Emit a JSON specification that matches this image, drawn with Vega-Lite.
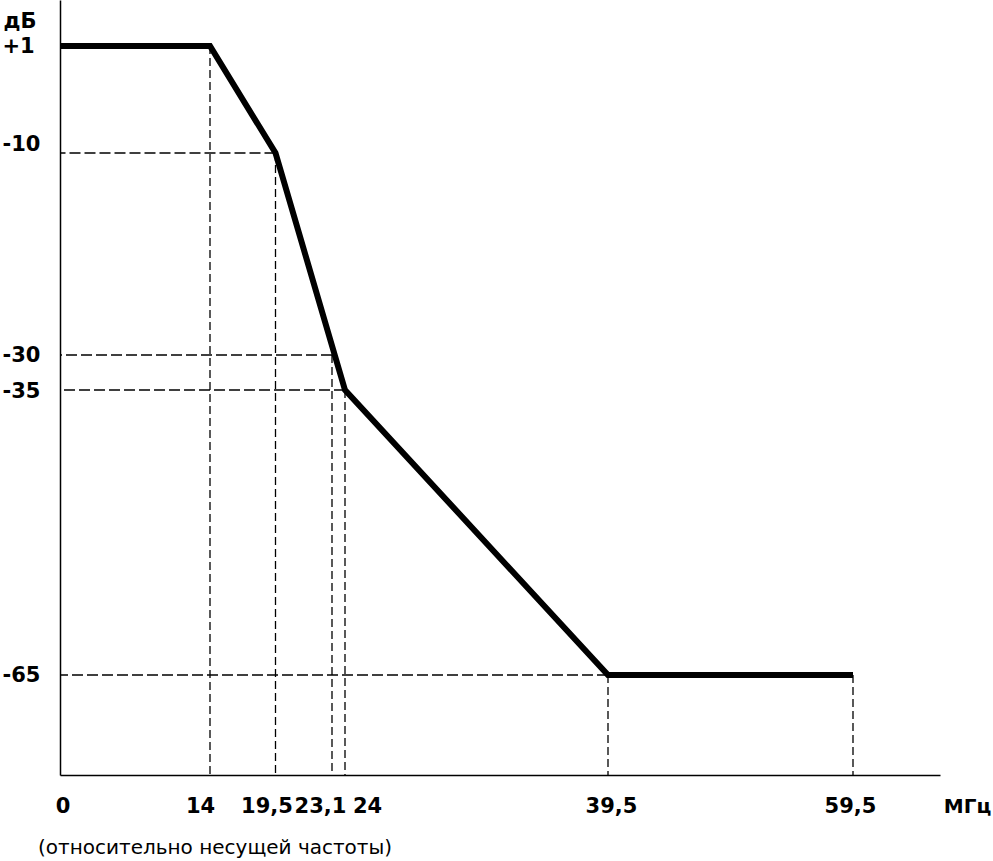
{
  "$schema": "https://vega.github.io/schema/vega-lite/v6.json",
  "width": 880,
  "height": 775,
  "autosize": "none",
  "padding": {"left": 60, "top": 0, "right": 53, "bottom": 86},
  "background": "white",
  "config": {
    "view": {"stroke": null},
    "font": "DejaVu Sans",
    "axis": {"grid": false, "domainColor": "black", "domainWidth": 1.5, "labelColor": "black", "titleColor": "black"}
  },
  "title": {
    "text": "(относительно несущей частоты)",
    "orient": "bottom",
    "anchor": "start",
    "dx": 36,
    "offset": 22,
    "font": "DejaVu Sans",
    "fontSize": 20,
    "fontWeight": "normal",
    "color": "black"
  },
  "datasets": {
    "curve": [
      {"f": 0, "db": 1},
      {"f": 14, "db": 1},
      {"f": 19.5, "db": -10},
      {"f": 24, "db": -35},
      {"f": 39.5, "db": -65},
      {"f": 59.5, "db": -65}
    ],
    "vguides": [
      {"f": 14, "db": 1},
      {"f": 19.5, "db": -10},
      {"f": 23.1, "db": -30},
      {"f": 24, "db": -35},
      {"f": 39.5, "db": -65},
      {"f": 59.5, "db": -65}
    ],
    "hguides": [
      {"f": 19.5, "db": -10},
      {"f": 23.1, "db": -30},
      {"f": 24, "db": -35},
      {"f": 39.5, "db": -65}
    ]
  },
  "layer": [
    {
      "data": {"name": "vguides"},
      "mark": {"type": "rule", "color": "black", "strokeWidth": 1.3, "strokeDash": [8, 4]},
      "encoding": {
        "x": {
          "field": "f", "type": "quantitative",
          "scale": {"domain": [0, 14, 19.5, 23.1, 24, 39.5, 59.5, 66.6], "range": [0, 150, 215.5, 272, 285, 548, 793, 880], "zero": false, "nice": false},
          "axis": {
            "values": [0, 14, 19.5, 23.1, 24, 39.5, 59.5],
            "labelExpr": "replace(toString(datum.value), '.', ',')",
            "ticks": false,
            "tickSize": 0,
            "labelPadding": 31,
            "labelBaseline": "middle",
            "labelAlign": "center",
            "labelFont": "DejaVu Sans",
            "labelFontWeight": "bold",
            "labelFontSize": 21,
            "labelFlush": false,
            "labelOverlap": false,
            "labelOffset": {"expr": "datum.value == 0 ? 2.5 : datum.value == 14 ? -10 : datum.value == 19.5 ? -9 : datum.value == 23.1 ? -12 : datum.value == 24 ? 22 : datum.value == 39.5 ? 3 : datum.value == 59.5 ? -3 : 0"},
            "title": "МГц",
            "titleFont": "DejaVu Sans",
            "titleFontWeight": "bold",
            "titleFontSize": 20,
            "titleX": 907,
            "titleY": 31,
            "titleAlign": "center",
            "titleBaseline": "middle"
          }
        },
        "y": {
          "field": "db", "type": "quantitative",
          "scale": {"domain": [-75.5, -65, -35, -30, -10, 1, 5.7], "range": [775, 675, 390, 355, 153, 46, 0], "zero": false, "nice": false},
          "axis": {
            "values": [1, -10, -30, -35, -65],
            "labelExpr": "datum.value > 0 ? '+' + datum.value : '' + datum.value",
            "ticks": false,
            "tickSize": 0,
            "labelPadding": 58,
            "labelAlign": "left",
            "labelBaseline": "middle",
            "labelFont": "DejaVu Sans",
            "labelFontWeight": "bold",
            "labelFontSize": 21,
            "labelFlush": false,
            "labelOverlap": false,
            "labelOffset": {"expr": "datum.value == -10 ? -9 : datum.value == -35 ? 1 : 0"},
            "title": "дБ",
            "titleFont": "DejaVu Sans",
            "titleFontWeight": "bold",
            "titleFontSize": 21,
            "titleAngle": 0,
            "titleX": -57,
            "titleY": 21,
            "titleAlign": "left",
            "titleBaseline": "middle"
          }
        },
        "y2": {"datum": -75.5}
      }
    },
    {
      "data": {"name": "hguides"},
      "mark": {"type": "rule", "color": "black", "strokeWidth": 1.3, "strokeDash": [11, 4]},
      "encoding": {
        "x": {"field": "f", "type": "quantitative"},
        "x2": {"datum": 0},
        "y": {"field": "db", "type": "quantitative"}
      }
    },
    {
      "data": {"name": "curve"},
      "mark": {"type": "line", "color": "black", "strokeWidth": 6, "strokeJoin": "miter", "strokeCap": "butt"},
      "encoding": {
        "x": {"field": "f", "type": "quantitative"},
        "y": {"field": "db", "type": "quantitative"}
      }
    }
  ]
}
